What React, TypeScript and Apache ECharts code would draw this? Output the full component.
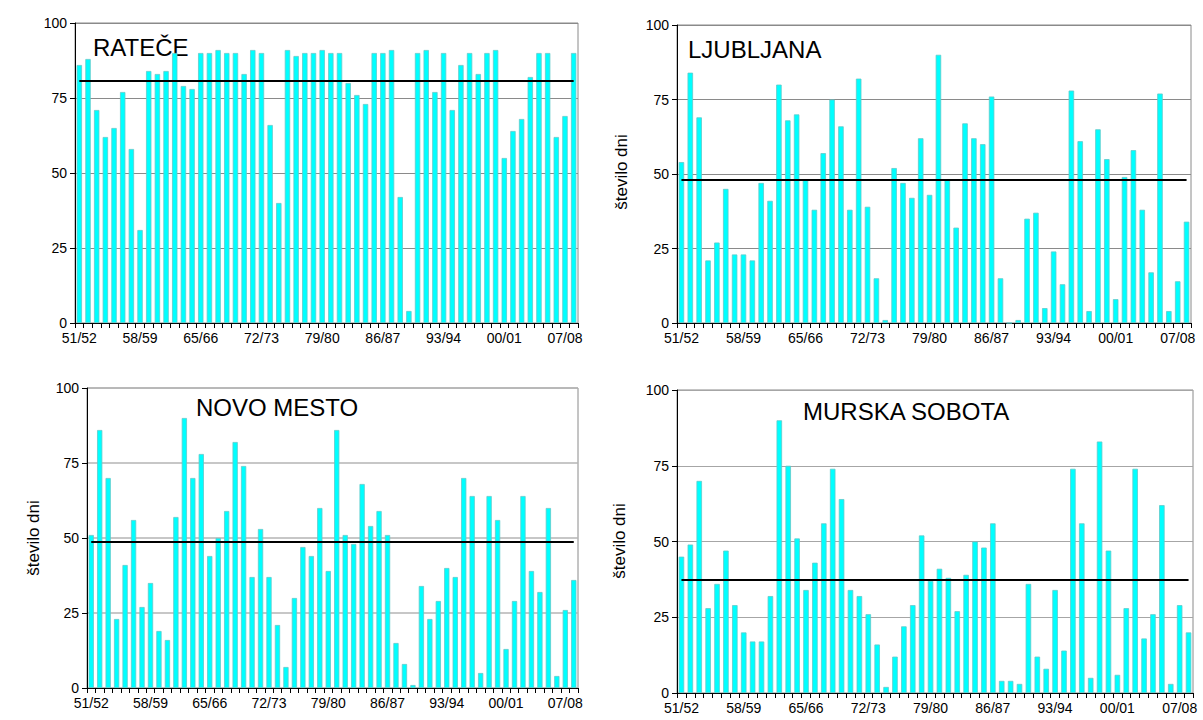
import React, { useEffect, useRef } from "react";
import * as echarts from "echarts";

const seasons = [
  "51/52", "52/53", "53/54", "54/55", "55/56", "56/57", "57/58", "58/59", "59/60", "60/61",
  "61/62", "62/63", "63/64", "64/65", "65/66", "66/67", "67/68", "68/69", "69/70", "70/71",
  "71/72", "72/73", "73/74", "74/75", "75/76", "76/77", "77/78", "78/79", "79/80", "80/81",
  "81/82", "82/83", "83/84", "84/85", "85/86", "86/87", "87/88", "88/89", "89/90", "90/91",
  "91/92", "92/93", "93/94", "94/95", "95/96", "96/97", "97/98", "98/99", "99/00", "00/01",
  "01/02", "02/03", "03/04", "04/05", "05/06", "06/07", "07/08", "08/09",
];

const ratece = [
  86, 88, 71, 62, 65, 77, 58, 31, 84, 83,
  84, 90, 79, 78, 90, 90, 91, 90, 90, 83,
  91, 90, 66, 40, 91, 89, 90, 90, 91, 90,
  90, 80, 76, 73, 90, 90, 91, 42, 4, 90,
  91, 77, 90, 71, 86, 90, 83, 90, 91, 55,
  64, 68, 82, 90, 90, 62, 69, 90,
];

const ljubljana = [
  54, 84, 69, 21, 27, 45, 23, 23, 21, 47,
  41, 80, 68, 70, 48, 38, 57, 75, 66, 38,
  82, 39, 15, 1, 52, 47, 42, 62, 43, 90,
  48, 32, 67, 62, 60, 76, 15, 0, 1, 35,
  37, 5, 24, 13, 78, 61, 4, 65, 55, 8,
  49, 58, 38, 17, 77, 4, 14, 34,
];

const novoMesto = [
  51, 86, 70, 23, 41, 56, 27, 35, 19, 16,
  57, 90, 70, 78, 44, 50, 59, 82, 74, 37,
  53, 37, 21, 7, 30, 47, 44, 60, 39, 86,
  51, 48, 68, 54, 59, 51, 15, 8, 1, 34,
  23, 29, 40, 37, 70, 64, 5, 64, 56, 13,
  29, 64, 39, 32, 60, 4, 26, 36,
];

const murskaSobota = [
  45, 49, 70, 28, 36, 47, 29, 20, 17, 17,
  32, 90, 75, 51, 34, 43, 56, 74, 64, 34,
  32, 26, 16, 2, 12, 22, 29, 52, 37, 41,
  38, 27, 39, 50, 48, 56, 4, 4, 3, 36,
  12, 8, 34, 14, 74, 56, 5, 83, 47, 6,
  28, 74, 18, 26, 62, 3, 29, 20,
];

const stations = ["RATEČE", "LJUBLJANA", "NOVO MESTO", "MURSKA SOBOTA"];
const means = [80.7, 48.2, 48.6, 37.3];
const yTicks = [0, 25, 50, 75, 100];
const yName = "število dni";

const FONT = "'Liberation Sans', Arial, sans-serif";

const panels = [
  { grid: { left: 75, top: 23, width: 503, height: 300 }, title: [93, 47.5], yName: null, split: "#8a8a8a", sw: 1 },
  { grid: { left: 677, top: 25, width: 514, height: 298 }, title: [688, 49.5], yName: [621, 172], split: "#8a8a8a", sw: 1 },
  { grid: { left: 87, top: 388, width: 491, height: 300 }, title: [196, 407.5], yName: [33, 538], split: "#b4b4b4", sw: 1.5 },
  { grid: { left: 677, top: 390, width: 516, height: 303 }, title: [803, 411], yName: [619, 541], split: "#a6a6a6", sw: 1 },
];

const seriesData = [ratece, ljubljana, novoMesto, murskaSobota];

export default function App() {
  const ref = useRef<HTMLDivElement>(null);
  useEffect(() => {
    if (!ref.current) return;
    const chart = echarts.init(ref.current, null, { renderer: "svg" });
    const graphics: any[] = [];
    panels.forEach((p, i) => {
      graphics.push({
        type: "text",
        x: p.title[0],
        y: p.title[1],
        style: { text: stations[i], font: `24px ${FONT}`, fill: "#000", align: "left", verticalAlign: "middle" },
      });
      if (p.yName) {
        graphics.push({
          type: "text",
          x: p.yName[0],
          y: p.yName[1],
          rotation: Math.PI / 2,
          style: { text: yName, font: `17px ${FONT}`, fill: "#000", align: "center", verticalAlign: "middle" },
        });
      }
    });
    const option: any = {
      animation: false,
      backgroundColor: "#fff",
      grid: panels.map((p) => ({ ...p.grid, show: true, borderColor: "#8a8a8a", borderWidth: 1, backgroundColor: "transparent" })),
      xAxis: panels.map((p, i) => ({
        type: "category",
        gridIndex: i,
        data: seasons,
        boundaryGap: true,
        axisLine: { show: true, onZero: false, lineStyle: { color: "#000", width: 1 } },
        axisTick: { show: true, interval: 0, length: 5, alignWithLabel: false, lineStyle: { color: "#000" } },
        axisLabel: { interval: 6, color: "#000", fontSize: 14, fontFamily: FONT, margin: 8 },
        splitLine: { show: false },
      })),
      yAxis: panels.map((p, i) => ({
        type: "value",
        gridIndex: i,
        min: yTicks[0],
        max: yTicks[yTicks.length - 1],
        interval: 25,
        axisLine: { show: true, lineStyle: { color: "#000", width: 1 } },
        axisTick: { show: true, length: 5, lineStyle: { color: "#000" } },
        axisLabel: { color: "#000", fontSize: 14, fontFamily: FONT, margin: 8 },
        splitLine: { show: true, lineStyle: { color: p.split, width: p.sw } },
      })),
      series: panels.map((p, i) => ({
        type: "bar",
        name: stations[i],
        xAxisIndex: i,
        yAxisIndex: i,
        data: seriesData[i],
        barWidth: "62%",
        itemStyle: { color: "#00FFFF", borderColor: "#5fcaca", borderWidth: 0.8 },
        emphasis: { disabled: true },
        markLine: {
          silent: true,
          symbol: ["none", "none"],
          label: { show: false },
          lineStyle: { color: "#000", width: 2, type: "solid" },
          emphasis: { disabled: true },
          data: [[{ coord: [seasons[0], means[i]] }, { coord: [seasons[seasons.length - 1], means[i]] }]],
        },
      })),
      graphic: graphics,
    };
    chart.setOption(option);
    return () => chart.dispose();
  }, []);
  return <div ref={ref} style={{ position: "fixed", left: 0, top: 0, width: 1203, height: 720 }} />;
}
